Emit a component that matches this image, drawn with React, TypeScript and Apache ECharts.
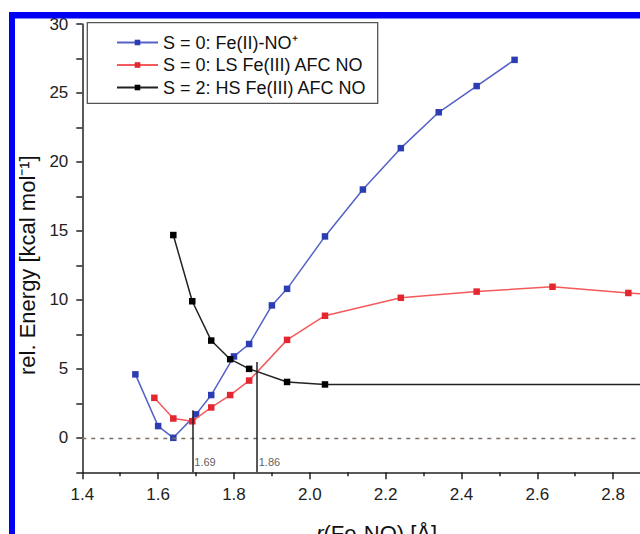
import React, { useEffect, useRef } from "react";
import * as echarts from "echarts";

const FONT = "'Liberation Sans', Arial, Helvetica, sans-serif";

const seriesNames = [
  "S = 0: Fe(II)-NO⁺",
  "S = 0: LS Fe(III) AFC NO",
  "S = 2: HS Fe(III) AFC NO",
];

// S = 0: Fe(II)-NO+
const blueX = [1.54, 1.6, 1.64, 1.7, 1.74, 1.8, 1.84, 1.9, 1.94, 2.04, 2.14, 2.24, 2.34, 2.44, 2.54];
const blueY = [4.6, 0.85, 0.0, 1.7, 3.1, 5.9, 6.8, 9.6, 10.8, 14.6, 18.0, 21.0, 23.6, 25.5, 27.4];

// S = 0: LS Fe(III) AFC NO
const redX = [1.59, 1.64, 1.69, 1.74, 1.79, 1.84, 1.94, 2.04, 2.24, 2.44, 2.64, 2.84, 3.04];
const redY = [2.9, 1.4, 1.2, 2.2, 3.1, 4.15, 7.1, 8.85, 10.15, 10.6, 10.95, 10.5, 10.1];

// S = 2: HS Fe(III) AFC NO
const blackX = [1.64, 1.69, 1.74, 1.79, 1.84, 1.94, 2.04, 2.94];
const blackY = [14.7, 9.9, 7.05, 5.7, 5.0, 4.05, 3.87, 3.87];

// crossing markers
const crossX = [1.69, 1.86];
const crossTopY = [2.0, 5.5];
const crossLabelY = -1.78;

// axes
const xMin = 1.4;
const xMax = 3.0;
const xInterval = 0.2;
const yMin = -2.5;
const yMax = 30;
const yTickValues = [-2.5, 0, 2.5, 5, 7.5, 10, 12.5, 15, 17.5, 20, 22.5, 25, 27.5, 30];
const yLabelValues = [0, 5, 10, 15, 20, 25, 30];

const zip = (xs: number[], ys: number[]) => xs.map((x, i) => [x, ys[i]]);

export default function App() {
  const ref = useRef<HTMLDivElement>(null);

  useEffect(() => {
    if (!ref.current) return;
    const chart = echarts.init(ref.current, null, { renderer: "svg" });
    const axisColor = "#222";
    chart.setOption({
      animation: false,
      backgroundColor: "#fff",
      textStyle: { fontFamily: FONT },
      grid: { left: 82.3, top: 24, right: 31, bottom: 87.7 },
      legend: {
        data: seriesNames,
        orient: "vertical",
        left: 116,
        top: 32.5,
        padding: 0,
        itemWidth: 41,
        itemHeight: 7,
        itemGap: 2.5,
        textStyle: { fontSize: 18, lineHeight: 20, color: "#111", fontFamily: FONT },
      },
      xAxis: {
        type: "value",
        min: xMin,
        max: xMax,
        interval: xInterval,
        name: "{i|r}(Fe-NO) [Å]",
        nameLocation: "middle",
        nameGap: 50,
        nameTextStyle: {
          fontSize: 22,
          color: "#111",
          fontFamily: FONT,
          padding: [0, 18, 0, 0],
          rich: { i: { fontStyle: "italic", fontSize: 22, color: "#111", fontFamily: FONT } },
        },
        axisLine: { show: true, onZero: false, lineStyle: { color: axisColor, width: 1.5 } },
        axisTick: { show: true, inside: false, length: 7, lineStyle: { color: axisColor, width: 1.5 } },
        minorTick: { show: true, splitNumber: 2, length: 4, lineStyle: { color: axisColor, width: 1.5 } },
        splitLine: { show: false },
        axisLabel: {
          fontSize: 17,
          color: "#222",
          margin: 14,
          fontFamily: FONT,
          formatter: (v: number) => v.toFixed(1),
        },
      },
      yAxis: {
        type: "value",
        min: yMin,
        max: yMax,
        name: "rel. Energy [kcal mol⁻¹]",
        nameLocation: "middle",
        nameGap: 41,
        nameTextStyle: {
          fontSize: 22,
          color: "#111",
          fontFamily: FONT,
          padding: [0, 34, 0, 0],
        },
        axisLine: { show: true, onZero: false, lineStyle: { color: axisColor, width: 1.5 } },
        axisTick: {
          show: true,
          inside: false,
          length: 6,
          customValues: yTickValues,
          lineStyle: { color: axisColor, width: 1.5 },
        },
        splitLine: { show: false },
        axisLabel: {
          fontSize: 17,
          color: "#222",
          margin: 14,
          fontFamily: FONT,
          customValues: yLabelValues,
        },
      },
      graphic: [
        {
          type: "rect",
          z: 10,
          shape: { x: 87.3, y: 22.7, width: 290.4, height: 80.6 },
          style: { fill: "none", stroke: "#555", lineWidth: 1.3 },
        },
        {
          type: "rect",
          z: 20,
          shape: { x: 9, y: 12, width: 720, height: 6.5 },
          style: { fill: "#0000f2" },
        },
        {
          type: "rect",
          z: 20,
          shape: { x: 9, y: 12, width: 6, height: 560 },
          style: { fill: "#0000f2" },
        },
      ],
      series: [
        {
          name: seriesNames[0],
          type: "line",
          data: zip(blueX, blueY),
          symbol: "rect",
          symbolSize: 6.5,
          lineStyle: { color: "#5462c8", width: 1.5 },
          itemStyle: { color: "#2c3db4" },
          markLine: {
            silent: true,
            symbol: ["none", "none"],
            label: { show: false },
            lineStyle: { color: "#7d7068", type: [4, 5], width: 1.3 },
            data: [{ yAxis: 0 }],
          },
          z: 3,
        },
        {
          name: seriesNames[1],
          type: "line",
          data: zip(redX, redY),
          symbol: "rect",
          symbolSize: 6.5,
          lineStyle: { color: "#f4595c", width: 1.5 },
          itemStyle: { color: "#e3262f" },
          z: 4,
        },
        {
          name: seriesNames[2],
          type: "line",
          data: zip(blackX, blackY),
          symbol: "rect",
          symbolSize: 6.5,
          lineStyle: { color: "#222", width: 1.5 },
          itemStyle: { color: "#000" },
          markLine: {
            silent: true,
            symbol: ["none", "none"],
            label: { show: false },
            lineStyle: { color: "#222", type: "solid", width: 1.5 },
            data: crossX.map((x, i) => [
              { coord: [x, yMin] },
              { coord: [x, crossTopY[i]] },
            ]),
          },
          z: 5,
        },
        {
          name: "crossings",
          type: "scatter",
          data: crossX.map((x) => [x, crossLabelY]),
          symbolSize: 0,
          silent: true,
          label: {
            show: true,
            position: "right",
            distance: 2,
            fontSize: 11,
            color: "#333",
            fontFamily: FONT,
            formatter: (p: any) => p.value[0].toFixed(2),
          },
          z: 6,
        },
      ],
    });
    return () => chart.dispose();
  }, []);

  return (
    <div
      style={{
        position: "fixed",
        left: 0,
        top: 0,
        width: 640,
        height: 534,
        overflow: "hidden",
        background: "#fff",
      }}
    >
      <div ref={ref} style={{ width: 720, height: 560 }} />
    </div>
  );
}
